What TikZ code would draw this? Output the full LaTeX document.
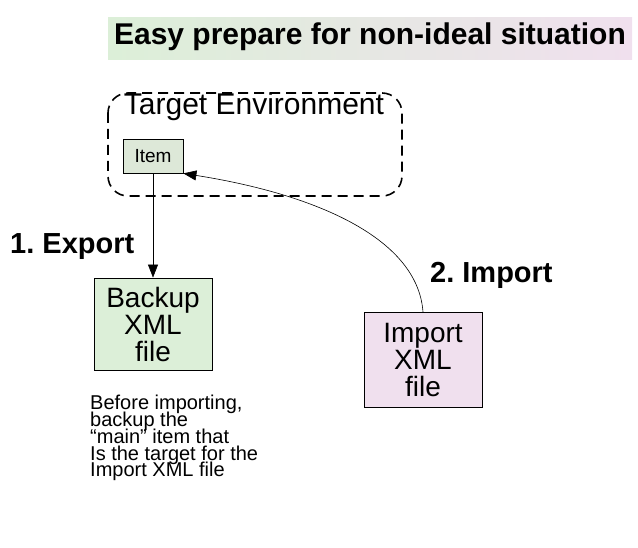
\documentclass[tikz,border=0pt]{standalone}
\usepackage{fontspec}
\setmainfont{Liberation Sans}
\usetikzlibrary{arrows.meta}
\definecolor{greenfill}{HTML}{DCEFD8}
\definecolor{pinkfill}{HTML}{F0E0EE}
\definecolor{itemfill}{HTML}{DDE8D8}
\newcommand\tightlines{\lineskiplimit=-20pt\relax}
\tikzset{
  x=1pt, y=-1pt,
  filebox/.style={draw, line width=0.8pt, minimum width=118pt, inner sep=0pt, align=center, font=\fontsize{28}{27}\selectfont},
  steplabel/.style={font=\bfseries\fontsize{29}{30}\selectfont, anchor=west, inner sep=0pt},
  conn/.style={-{Triangle[length=13pt,width=10pt]}, line width=0.6pt}
}
\begin{document}
\frenchspacing
\begin{tikzpicture}
\useasboundingbox (0,0) rectangle (638,548);
\fill[left color=greenfill, right color=pinkfill] (108,18) rectangle (632,60);
\node[font=\bfseries\fontsize{30}{32}\selectfont] (title) at (370,37) {Easy prepare for non-ideal situation};
\draw[dashed, dash pattern=on 10pt off 6pt, line width=1.6pt, rounded corners=20pt] (108,93) rectangle (402,196);
\node[font=\fontsize{30}{32}\selectfont, inner sep=0pt] (env) at (254,107) {Target Environment};
\node[draw, fill=itemfill, line width=0.8pt, minimum width=60pt, minimum height=34pt, inner sep=0pt, font=\fontsize{19}{20}\selectfont] (item) at (153,156) {Item};
\node[filebox, fill=greenfill, minimum height=92pt] (backup) at (153,324) {\raisebox{2pt}{\parbox{110pt}{\centering Backup\\XML\\file}}};
\node[filebox, fill=pinkfill, minimum height=95pt] (import) at (423,360) {\raisebox{2pt}{\parbox{110pt}{\centering Import\\XML\\file}}};
\node[steplabel] (export) at (10,247) {1. Export};
\node[steplabel] (importlbl) at (430,275) {2. Import};
\draw[conn] (item.south) -- (backup.north);
\draw[conn] (import.north) .. controls (418,240) and (320,195) .. (item.south east);
\node[anchor=north west, align=left, inner sep=0pt, font=\fontsize{20}{16.8}\selectfont\tightlines] (note) at (90,395) {Before importing,\\backup the\\“main” item that\\Is the target for the\\Import XML file};
\end{tikzpicture}
\end{document}
